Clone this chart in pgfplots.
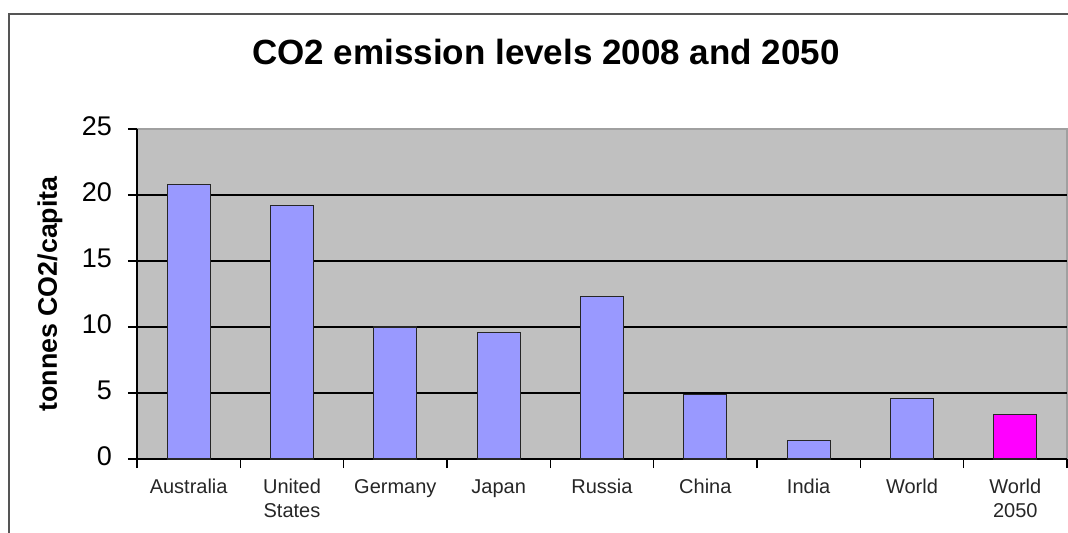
\documentclass[border=0pt]{standalone}
\usepackage{fontspec}
\setmainfont{Liberation Sans}
\usepackage{pgfplots}
\pgfplotsset{compat=1.18}
\definecolor{barblue}{HTML}{9999FF}
\definecolor{barpink}{HTML}{FF00FF}
\definecolor{plotgray}{HTML}{C0C0C0}
\definecolor{framegray}{HTML}{555555}
\definecolor{bordergray}{HTML}{A0A0A0}

\begin{document}
\begin{tikzpicture}
% picture = 1068x532 px at 0.5pt per px, axis box origin at px (137,459)
\useasboundingbox (-68.5pt,-36.5pt) rectangle (465.5pt,229.5pt);
\clip (-68.5pt,-36.5pt) rectangle (465.5pt,229.5pt);
\draw[framegray, line width=0.8pt] (-64pt,-60pt) rectangle (480pt,222.5pt);
\begin{axis}[
  at={(0,0)}, anchor=south west,
  scale only axis, width=465pt, height=165pt,
  xmin=-0.5, xmax=8.5, ymin=0, ymax=25,
  enlarge x limits=false, enlarge y limits=false,
  axis x line*=bottom, axis y line*=left,
  axis line style={black, line width=0.8pt},
  axis background/.style={fill=plotgray, draw=bordergray, line width=0.6pt},
  ytick={0,5,10,15,20},
  extra y ticks={25},
  extra y tick style={grid=none},
  ymajorgrids,
  major grid style={black, line width=0.6pt},
  xtick={0,...,8},
  xticklabels={Australia, United\\States, Germany, Japan, Russia, China, India, World, World\\2050},
  minor xtick={-0.5,0.5,...,8.5},
  major x tick style={draw=none},
  minor x tick style={black, line width=0.8pt},
  y tick style={black, line width=0.8pt},
  tick align=outside,
  major tick length=4.5pt,
  minor tick length=4.5pt,
  /pgf/number format/assume math mode=true,
  typeset ticklabels with strut,
  yticklabel style={font=\fontsize{13.5}{16}\selectfont, xshift=-4.5pt},
  xticklabel style={align=center, font=\fontsize{10}{12}\selectfont, text=black!85, yshift=-1pt},
  title={CO2 emission levels 2008 and 2050},
  every axis title/.style={at={(axis description cs:0.4398,1.2333)}, anchor=center,
    font=\bfseries\fontsize{17.5}{21}\selectfont},
  ylabel={tonnes CO2/capita},
  every axis y label/.style={at={(axis description cs:-0.0935,0.5)}, rotate=90, anchor=center,
    font=\bfseries\fontsize{13.4}{16}\selectfont},
]
\addplot[ybar, bar shift=0pt, bar width=21.5pt, fill=barblue, draw=black!85, line width=0.6pt]
  coordinates {(0,20.8) (1,19.2) (2,10.0) (3,9.6) (4,12.3) (5,4.9) (6,1.4) (7,4.6)};
\addplot[ybar, bar shift=0pt, bar width=21.5pt, fill=barpink, draw=black!85, line width=0.6pt]
  coordinates {(8,3.4)};
\end{axis}
\end{tikzpicture}
\end{document}
